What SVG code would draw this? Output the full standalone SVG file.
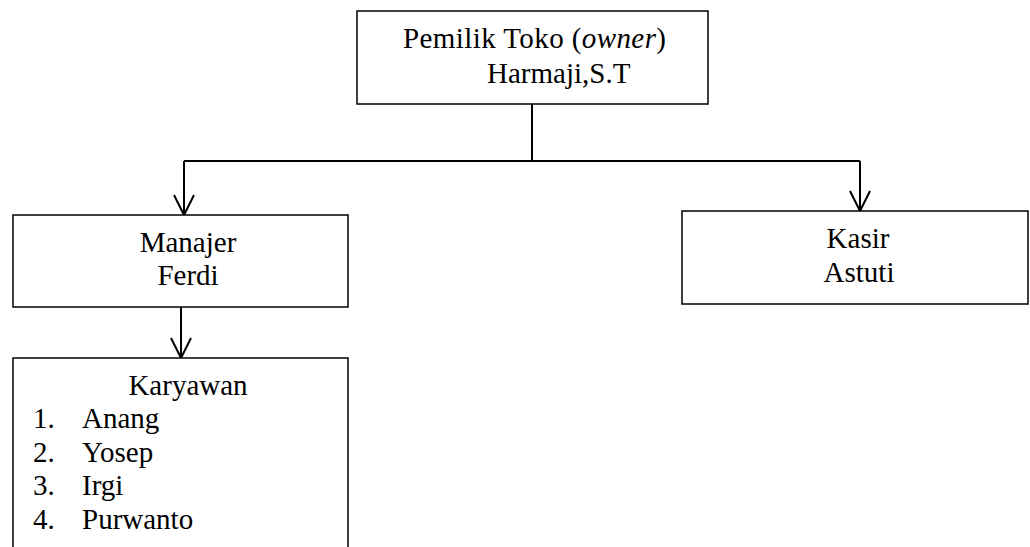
<svg xmlns="http://www.w3.org/2000/svg" width="1030" height="547" viewBox="0 0 1030 547">
<style>
.box{fill:#fff;stroke:#000;stroke-width:1.5}
.t{font-family:'Liberation Serif','Times New Roman',serif;font-size:29px;fill:#000}
.c{stroke:#000;stroke-width:2;fill:none}
</style>
<defs>
<marker id="v" markerUnits="userSpaceOnUse" markerWidth="26" markerHeight="26" viewBox="-23 -13 26 26" refX="0" refY="0" orient="auto">
<path d="M-20,-10 L0,0 L-20,10" class="c"/>
</marker>
</defs>
<rect width="1030" height="547" fill="#fff"/>
<g id="connectors">
<path class="c" d="M532,104 V161"/>
<path class="c" d="M184,161 H860"/>
<path class="c" d="M184,161 V215" marker-end="url(#v)"/>
<path class="c" d="M860,161 V211" marker-end="url(#v)"/>
<path class="c" d="M181,307 V358" marker-end="url(#v)"/>
</g>
<g id="owner">
<rect class="box" x="357" y="11" width="351" height="93"/>
<text class="t" x="403" y="48" textLength="263">Pemilik Toko (<tspan font-style="italic">owner</tspan>)</text>
<text class="t" x="487" y="83">Harmaji,S.T</text>
</g>
<g id="manajer">
<rect class="box" x="13" y="215" width="335" height="92"/>
<text class="t" x="188" y="252" text-anchor="middle">Manajer</text>
<text class="t" x="188" y="285" text-anchor="middle">Ferdi</text>
</g>
<g id="kasir">
<rect class="box" x="682" y="211" width="346" height="93"/>
<text class="t" x="858" y="248" text-anchor="middle">Kasir</text>
<text class="t" x="859" y="282" text-anchor="middle">Astuti</text>
</g>
<g id="karyawan">
<rect class="box" x="13" y="358" width="335" height="220"/>
<text class="t" x="188" y="395" text-anchor="middle">Karyawan</text>
<text class="t" x="33" y="428">1.</text><text class="t" x="82" y="428">Anang</text>
<text class="t" x="33" y="462">2.</text><text class="t" x="82" y="462">Yosep</text>
<text class="t" x="33" y="495">3.</text><text class="t" x="82" y="495">Irgi</text>
<text class="t" x="33" y="529">4.</text><text class="t" x="82" y="529">Purwanto</text>
</g>
</svg>
